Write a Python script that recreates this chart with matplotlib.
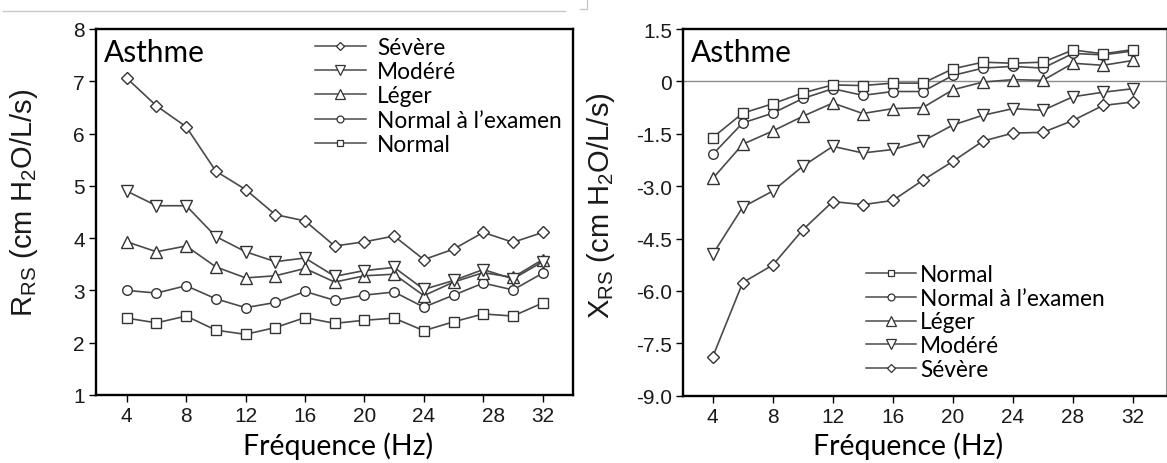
import matplotlib
matplotlib.use("Agg")
import matplotlib.pyplot as plt
from matplotlib.lines import Line2D
import matplotlib.transforms as mtransforms

# ---------------- data ----------------
freq = [4, 6, 8, 10, 12, 14, 16, 18, 20, 22, 24, 26, 28, 30, 32]

rrs_severe = [7.06, 6.53, 6.13, 5.28, 4.93, 4.45, 4.33, 3.85, 3.93, 4.04, 3.59, 3.79, 4.11, 3.92, 4.11]
rrs_modere = [4.90, 4.62, 4.62, 4.03, 3.74, 3.55, 3.62, 3.27, 3.38, 3.44, 3.02, 3.19, 3.40, 3.22, 3.55]
rrs_leger = [3.93, 3.74, 3.85, 3.45, 3.24, 3.28, 3.42, 3.16, 3.28, 3.31, 2.90, 3.16, 3.34, 3.25, 3.59]
rrs_normal_exam = [3.00, 2.95, 3.09, 2.84, 2.67, 2.77, 2.98, 2.81, 2.91, 2.97, 2.68, 2.91, 3.14, 3.01, 3.33]
rrs_normal = [2.47, 2.38, 2.51, 2.24, 2.16, 2.29, 2.48, 2.37, 2.43, 2.47, 2.23, 2.40, 2.55, 2.51, 2.76]

xrs_normal = [-1.61, -0.91, -0.64, -0.33, -0.10, -0.12, -0.05, -0.05, 0.36, 0.55, 0.52, 0.55, 0.90, 0.79, 0.91]
xrs_normal_exam = [-2.09, -1.19, -0.91, -0.49, -0.21, -0.40, -0.29, -0.29, 0.17, 0.38, 0.43, 0.38, 0.80, 0.76, 0.87]
xrs_leger = [-2.78, -1.80, -1.42, -1.00, -0.62, -0.92, -0.78, -0.75, -0.24, -0.02, 0.05, 0.03, 0.52, 0.46, 0.60]
xrs_modere = [-4.95, -3.60, -3.14, -2.43, -1.86, -2.05, -1.95, -1.71, -1.25, -0.97, -0.78, -0.83, -0.44, -0.31, -0.21]
xrs_severe = [-7.89, -5.76, -5.26, -4.25, -3.44, -3.53, -3.41, -2.83, -2.29, -1.71, -1.48, -1.46, -1.12, -0.69, -0.59]

labels = ["Sévère", "Modéré", "Léger", "Normal à l’examen", "Normal"]

xticks = [4, 8, 12, 16, 20, 24, 28, 32]
rrs_yticks = [1, 2, 3, 4, 5, 6, 7, 8]
rrs_yticklabels = ["1", "2", "3", "4", "5", "6", "7", "8"]
xrs_yticks = [1.5, 0, -1.5, -3.0, -4.5, -6.0, -7.5, -9.0]
xrs_yticklabels = ["1.5", "0", "-1.5", "-3.0", "-4.5", "-6.0", "-7.5", "-9.0"]

# ---------------- style ----------------
W, H = 1167, 464
LINE_C = "#4a4a4a"
EDGE_C = "#333333"
TEXT_FONT = ["Lato", "DejaVu Sans"]
TICK_FONT = ["Liberation Sans", "DejaVu Sans"]

plt.rcParams["mathtext.fontset"] = "custom"
plt.rcParams["mathtext.rm"] = "Liberation Sans"
plt.rcParams["mathtext.it"] = "Liberation Sans"

styles = {
    "Sévère": dict(marker="D", ms=6.2),
    "Modéré": dict(marker="v", ms=9.2),
    "Léger": dict(marker="^", ms=9.2),
    "Normal à l’examen": dict(marker="o", ms=6.9),
    "Normal": dict(marker="s", ms=6.6),
}

fig = plt.figure(figsize=(W / 100, H / 100), dpi=100)

def px_axes(l, t, r, b):
    return fig.add_axes([l / W, 1 - b / H, (r - l) / W, (b - t) / H])

ax1 = px_axes(96, 30, 573, 396)
ax2 = px_axes(683, 30, 1166, 396.7)

def draw(ax, series):
    for name, vals in series:
        st = styles[name]
        ax.plot(freq, vals, color=LINE_C, lw=1.2, marker=st["marker"],
                ms=st["ms"], mfc="white", mec=EDGE_C, mew=1.0, zorder=3)

def style_axes(ax):
    for s in ax.spines.values():
        s.set_linewidth(1.7)
        s.set_color("black")
    ax.tick_params(axis="both", direction="out", length=5, width=1,
                   labelsize=15, pad=3, colors="black")
    for lab in ax.get_xticklabels() + ax.get_yticklabels():
        lab.set_fontfamily(TICK_FONT)
        lab.set_color("#1a1a1a")

# ---- left panel ----
draw(ax1, [("Normal", rrs_normal), ("Normal à l’examen", rrs_normal_exam),
           ("Léger", rrs_leger), ("Modéré", rrs_modere), ("Sévère", rrs_severe)])
ax1.set_xlim(1.93, 34.04)
ax1.set_ylim(1, 8)
ax1.set_xticks(xticks)
ax1.set_xticklabels([str(t) for t in xticks])
ax1.set_yticks(rrs_yticks)
ax1.set_yticklabels(rrs_yticklabels)
style_axes(ax1)
lab28 = ax1.get_xticklabels()[6]
lab28.set_transform(lab28.get_transform() +
                    mtransforms.ScaledTranslation(10 / 100, 0, fig.dpi_scale_trans))

ax1.set_xlabel("Fréquence (Hz)", fontsize=20.5, fontfamily=TEXT_FONT, color="black")
ax1.xaxis.set_label_coords((338 - 96) / 477, -(446 - 396) / 366)
ax1.xaxis.label.set_va("center")
ax1.set_ylabel(r"R$_{\mathrm{RS}}$ (cm H$_{\mathrm{2}}$O/L/s)", fontsize=21,
               fontfamily=TICK_FONT, color="#1a1a1a")
ax1.yaxis.set_label_coords(-(96 - 24) / 477, 0.5 + 10 / 366)
ax1.yaxis.label.set_va("center")
ax1.text(8 / 477, 1 - 9 / 366, "Asthme", transform=ax1.transAxes, fontsize=21.5,
         fontfamily=TEXT_FONT, va="top", ha="left", color="black")

def legend_handles(order):
    hs = []
    for name in order:
        st = styles[name]
        hs.append(Line2D([], [], color=LINE_C, lw=1.1, marker=st["marker"],
                         ms=st["ms"] * 0.72, mfc="white", mec=EDGE_C, mew=0.9))
    return hs

leg1 = ax1.legend(legend_handles(labels), labels, loc="upper left",
                  bbox_to_anchor=(315 / W, 1 - 38 / H), bbox_transform=fig.transFigure,
                  frameon=False, borderpad=0, borderaxespad=0, handlelength=2.25,
                  handletextpad=0.5, labelspacing=0.14,
                  prop=dict(family=TEXT_FONT, size=16.3))
for t in leg1.get_texts():
    t.set_color("black")

# ---- right panel ----
ax2.axhline(0, color="#8a8a8a", lw=1.0, zorder=1)
draw(ax2, [("Sévère", xrs_severe), ("Modéré", xrs_modere), ("Léger", xrs_leger),
           ("Normal à l’examen", xrs_normal_exam), ("Normal", xrs_normal)])
ax2.set_xlim(2.02, 34.2)
ax2.set_ylim(-9.0, 1.5)
ax2.set_xticks(xticks)
ax2.set_xticklabels([str(t) for t in xticks])
ax2.set_yticks(xrs_yticks)
ax2.set_yticklabels(xrs_yticklabels)
style_axes(ax2)
ax2.spines["right"].set_linewidth(0.8)
ax2.spines["right"].set_color("#9a9a9a")

ax2.set_xlabel("Fréquence (Hz)", fontsize=20.5, fontfamily=TEXT_FONT, color="black")
ax2.xaxis.set_label_coords((908 - 683) / 483, -(446 - 396.7) / 366.7)
ax2.xaxis.label.set_va("center")
ax2.set_ylabel(r"X$_{\mathrm{RS}}$ (cm H$_{\mathrm{2}}$O/L/s)", fontsize=21,
               fontfamily=TICK_FONT, color="#1a1a1a")
ax2.yaxis.set_label_coords(-(683 - 601) / 483, 0.5 + 8 / 366.7)
ax2.yaxis.label.set_va("center")
ax2.text(8 / 483, 1 - 9 / 366.7, "Asthme", transform=ax2.transAxes, fontsize=21.5,
         fontfamily=TEXT_FONT, va="top", ha="left", color="black")

order2 = ["Normal", "Normal à l’examen", "Léger", "Modéré", "Sévère"]
leg2 = ax2.legend(legend_handles(order2), order2, loc="upper left",
                  bbox_to_anchor=(866 / W, 1 - 265 / H), bbox_transform=fig.transFigure,
                  frameon=False, borderpad=0, borderaxespad=0, handlelength=2.2,
                  handletextpad=0.2, labelspacing=0.12,
                  prop=dict(family=TEXT_FONT, size=16.3))
for t in leg2.get_texts():
    t.set_color("black")

fig.add_artist(Line2D([3 / W, 565 / W], [1 - 11.5 / H, 1 - 11.5 / H],
                      transform=fig.transFigure, color="#c8c8c8", lw=1.0))
fig.add_artist(Line2D([580 / W, 587 / W, 587 / W], [1 - 10 / H, 1 - 10 / H, 1.0],
                      transform=fig.transFigure, color="#c8c8c8", lw=1.0))

fig.savefig("out.png", dpi=100)
